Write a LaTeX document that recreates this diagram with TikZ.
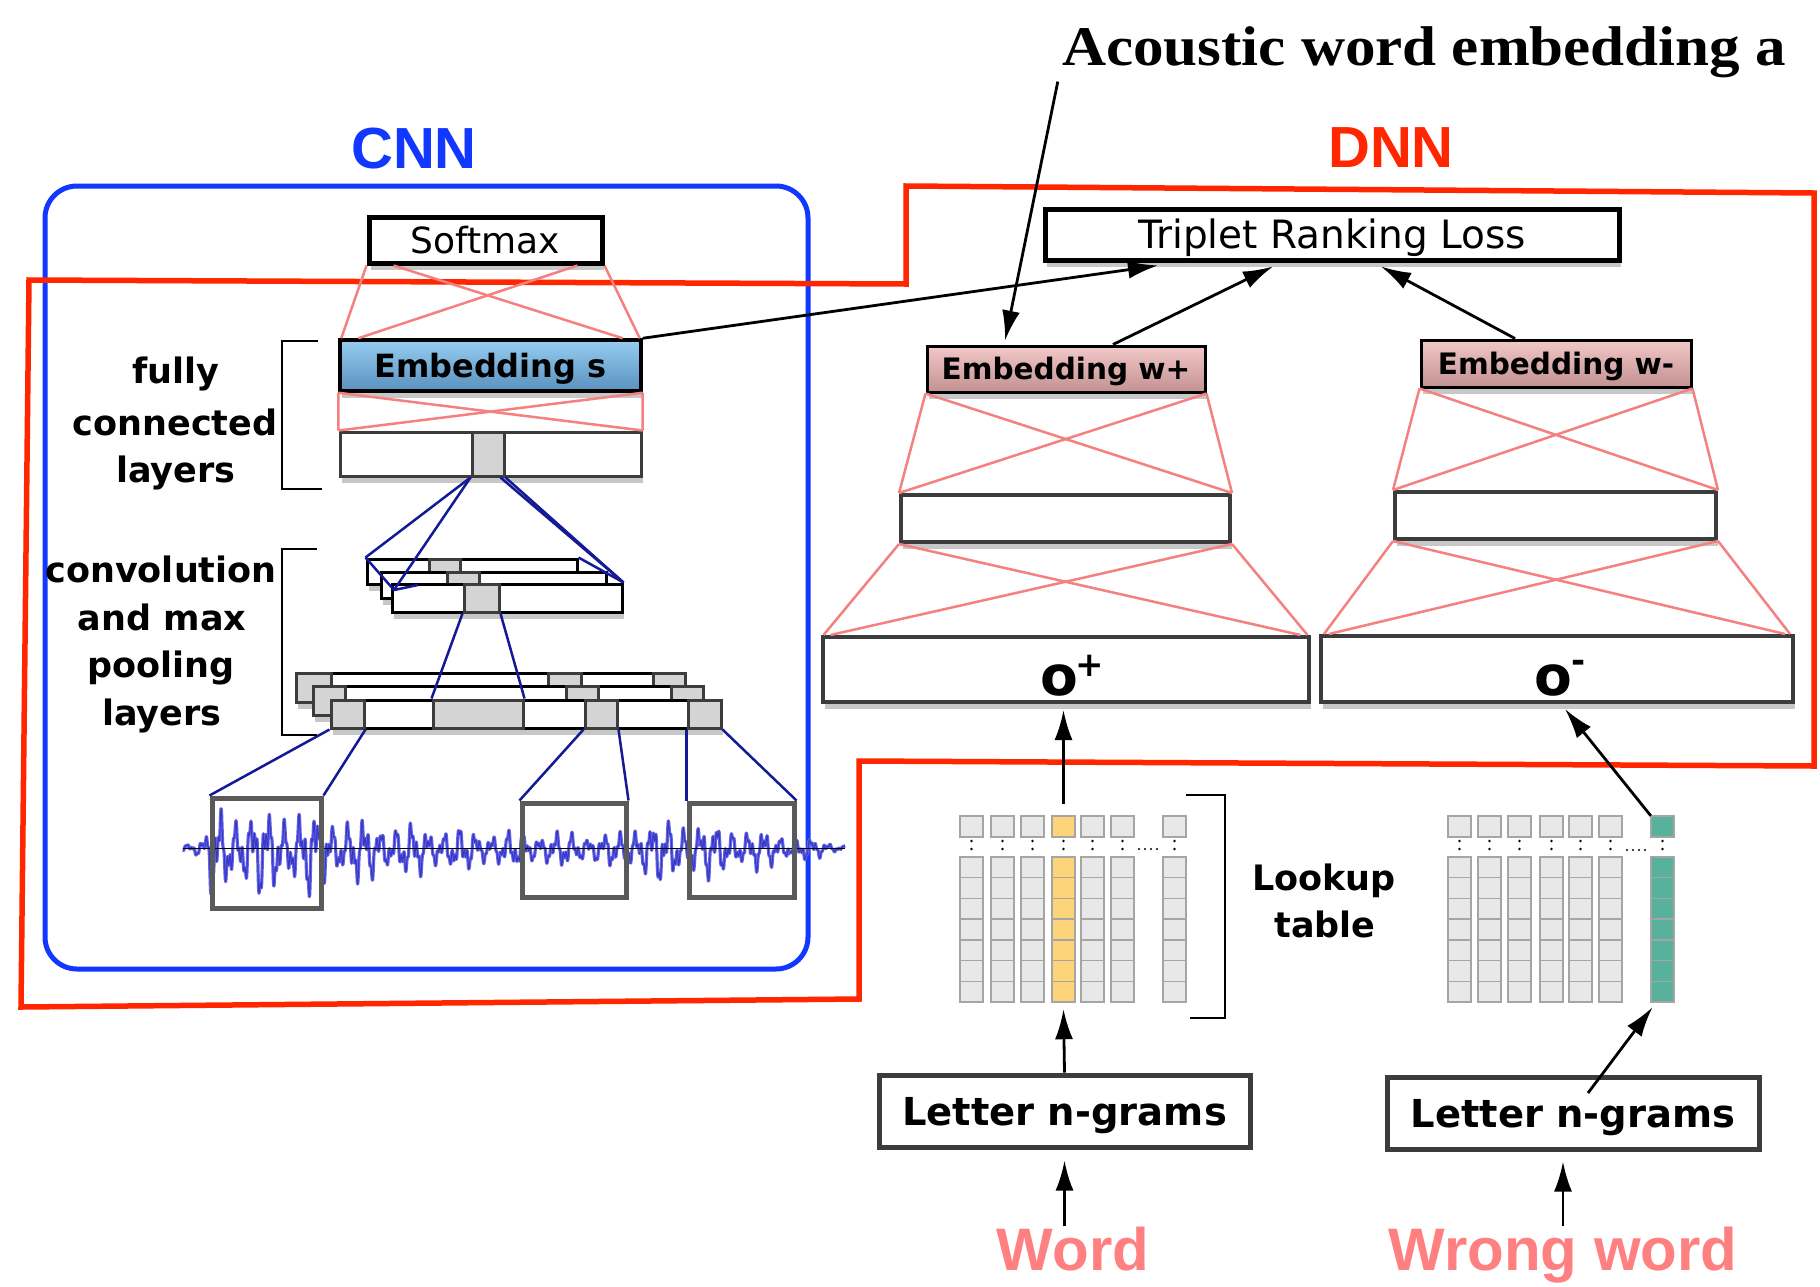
\documentclass[tikz,border=0pt]{standalone}
\usepackage{fontspec}
\setmainfont{DejaVu Sans}
\newfontfamily\libsans{Liberation Sans}
\newfontfamily\libserif{Liberation Serif}
\usepackage{graphicx}
\usetikzlibrary{arrows.meta,calc,shadows}
\newcommand\fsz[1]{\fontsize{#1}{#1}\selectfont}
\definecolor{pinkl}{RGB}{245,128,128}
\definecolor{navyc}{RGB}{20,25,150}
\definecolor{redc}{RGB}{255,38,0}
\definecolor{bluec}{RGB}{18,55,255}
\definecolor{salmonc}{RGB}{255,128,128}
\definecolor{cellg}{RGB}{232,232,232}
\definecolor{cellb}{RGB}{165,165,165}
\definecolor{yellowc}{RGB}{253,212,122}
\definecolor{tealc}{RGB}{88,178,155}
\definecolor{wavec}{RGB}{100,100,228}
\definecolor{waved}{RGB}{55,55,200}
\definecolor{darkg}{RGB}{60,60,60}
\definecolor{midg}{RGB}{90,90,90}
\definecolor{greycell}{RGB}{212,212,212}
\definecolor{embsT}{RGB}{150,205,240}
\definecolor{embsB}{RGB}{90,145,190}
\definecolor{embwT}{RGB}{242,200,200}
\definecolor{embwB}{RGB}{195,145,145}
\newcommand\pinkfan[5]{%
  \draw[pinkline] (#1.south west) -- ([xshift=#5]#2.north west);
  \draw[pinkline] (#1.south east) -- ([xshift=-#5]#2.north east);
  \draw[pinkline] ([xshift=#3]#1.south west) -- ([xshift=-#4]#2.north east);
  \draw[pinkline] ([xshift=-#3]#1.south east) -- ([xshift=#4]#2.north west);}
\newcommand\wavefn{848 + (\aa+(\ab-\aa)*(\x-\xa)/(\xb-\xa))*(0.5*sin(22.5*mod(\x,16))+0.3*sin(51.43*mod(\x,7)+40)+0.2*sin(120*mod(\x,3)+10)+0.08)*(0.8+0.2*sin(7.2*mod(\x,50)))}
\begin{document}
\begin{tikzpicture}[x=1pt,y=-1pt,
  box/.style={draw=black, fill=white, inner sep=0pt, line width=3pt},
  shad/.style={drop shadow={shadow xshift=2pt, shadow yshift=-7pt, opacity=0.22, fill=black}},
  pinkline/.style={draw=pinkl, line width=2.5pt},
  navyline/.style={draw=navyc, line width=2.5pt},
  arr/.style={-{Latex[length=30pt,width=18pt]}, line width=2.8pt, draw=black},
  txt/.style={inner sep=0pt, anchor=base},
  cell/.style={draw=cellb, fill=cellg, line width=1.5pt},
  brack/.style={draw=black, line width=2.5pt},
  hid/.style={draw=darkg, fill=white, line width=4pt, inner sep=0pt},
  lay/.style={draw=black, fill=white, line width=3pt, inner sep=0pt},
  laycell/.style={draw=darkg, fill=greycell, line width=3pt, inner sep=0pt},
  wbox/.style={draw=midg, line width=5pt, inner sep=0pt}
]
\useasboundingbox (0,0) rectangle (1820,1286);
\fill[white] (0,0) rectangle (1820,1286);

% containers
\draw[bluec, line width=5pt, rounded corners=32pt] (45,186) rectangle (808,969);
\draw[redc, line width=5.5pt, line join=miter] (29,280) -- (906,284) -- (906,186) -- (1814,193) -- (1814,766) -- (859,761) -- (859,999) -- (21,1007) -- cycle;

% titles
\node[txt, font=\libserif\bfseries\fsz{56}] (acoustic) at (1424,65) {\scalebox{1.09}[1]{Acoustic word embedding a}};
\node[txt, font=\libsans\bfseries\fsz{58}, text=bluec] (cnn) at (414,168) {CNN};
\node[txt, font=\libsans\bfseries\fsz{58}, text=redc] (dnn) at (1391,167) {DNN};

% ---------- CNN side ----------
\node[box, line width=5pt, shad, minimum width=233pt, minimum height=46pt, font=\fsz{36}, text height=26pt, text depth=0pt] (softmax) at (485.5,240) {Softmax};
\node[box, line width=3.5pt, shad, top color=embsT, bottom color=embsB, minimum width=301pt, minimum height=51pt, font=\fsz{32}\bfseries, text height=23pt, text depth=0pt] (embs) at (490.5,365.5) {Embedding s};
\node[lay, draw=darkg, shad, minimum width=301pt, minimum height=44pt] (fc) at (490.5,454) {};
\node[laycell, minimum width=32pt, minimum height=44pt] (fccell) at (488,454) {};

\pinkfan{softmax}{embs}{27pt}{20pt}{3pt}
\pinkfan{embs}{fc}{0pt}{0pt}{0pt}

% top conv stack
\node[lay, shad, minimum width=210pt, minimum height=25pt] (t1) at (472,571.5) {};
\node[laycell, minimum width=31pt, minimum height=25pt] (t1c) at (444.5,571.5) {};
\node[lay, shad, minimum width=225pt, minimum height=26pt] (t2) at (493.5,585) {};
\node[laycell, minimum width=32pt, minimum height=26pt] (t2c) at (463,585) {};
\node[lay, shad, minimum width=230pt, minimum height=28pt] (t3) at (507,598) {};
\node[laycell, minimum width=35pt, minimum height=28pt] (t3c) at (481.5,598) {};

% bottom conv stack
\node[lay, shad, minimum width=389pt, minimum height=29pt] (bA) at (490.5,687.5) {};
\node[laycell, minimum width=35pt, minimum height=29pt] (bA1) at (313.5,687.5) {};
\node[laycell, minimum width=33pt, minimum height=29pt] (bA2) at (564.5,687.5) {};
\node[laycell, minimum width=32pt, minimum height=29pt] (bA3) at (669,687.5) {};
\node[lay, shad, minimum width=390pt, minimum height=29pt] (bB) at (508,700.5) {};
\node[laycell, minimum width=32pt, minimum height=29pt] (bB1) at (329,700.5) {};
\node[laycell, minimum width=32pt, minimum height=29pt] (bB2) at (582,700.5) {};
\node[laycell, minimum width=32pt, minimum height=29pt] (bB3) at (687,700.5) {};
\node[lay, shad, minimum width=390pt, minimum height=28pt] (bC) at (526,714) {};
\node[laycell, minimum width=33pt, minimum height=28pt] (c1) at (347.5,714) {};
\node[laycell, minimum width=90pt, minimum height=28pt] (cbig) at (478,714) {};
\node[laycell, minimum width=32pt, minimum height=28pt] (c3) at (601,714) {};
\node[laycell, minimum width=33pt, minimum height=28pt] (c4) at (704.5,714) {};

% waveform
\foreach \xa/\xb/\aa/\ab in {183/205/6/14, 205/212/14/52, 212/325/52/52, 325/335/52/42, 335/405/42/32, 405/500/32/22, 500/625/22/20, 625/640/20/40, 640/700/40/35, 700/790/35/18, 790/845/18/4}{
  \pgfmathtruncatemacro\ns{3*(\xb-\xa)+1}
  \draw[wavec, line width=3.2pt, line join=round] plot[domain=\xa:\xb, samples=\ns] (\x, {\wavefn});
  \draw[waved, line width=1pt, line join=round] plot[domain=\xa:\xb, samples=\ns] (\x, {\wavefn});
}
\draw[black, line width=0.8pt] (183,848) -- (845,848);

\node[wbox, minimum width=109pt, minimum height=110pt] (wb1) at (266.5,853) {};
\node[wbox, minimum width=104pt, minimum height=94pt] (wb2) at (574,850) {};
\node[wbox, minimum width=105pt, minimum height=94pt] (wb3) at (741.5,850) {};

% navy connectors
\coordinate (t3nw) at (394,590);
\draw[navyline] (fccell.south west) -- (t1.north west);
\draw[navyline] (fccell.south west) -- (t3nw);
\draw[navyline] (t1.north west) -- (t3nw) -- (418,585);
\draw[navyline] (fccell.south east) -- (t3.north east);
\draw[navyline] ([xshift=-5pt]fccell.south east) -- (t3.north east);
\draw[navyline] (t1.north east) -- (t3.north east);
\draw[navyline] (t3c.south west) -- (cbig.north west);
\draw[navyline] (t3c.south east) -- (cbig.north east);
\draw[navyline] (c1.south west) -- (wb1.north west);
\draw[navyline] (c1.south east) -- (wb1.north east);
\draw[navyline] (c3.south west) -- (wb2.north west);
\draw[navyline] (c3.south east) -- (wb2.north east);
\draw[navyline] (c4.south west) -- (wb3.north west);
\draw[navyline] (c4.south east) -- (wb3.north east);

% brackets and labels
\draw[brack] (318,341) -- (282,341) -- (282,489) -- (322,489);
\draw[brack] (317,549) -- (282,549) -- (282,735) -- (317,735);
\node[txt, font=\bfseries\fsz{35}] (fl1) at (176,383) {fully};
\node[txt, font=\bfseries\fsz{35}] (fl2) at (175,435) {connected};
\node[txt, font=\bfseries\fsz{35}] (fl3) at (176,482) {layers};
\node[txt, font=\bfseries\fsz{35}] (cl1) at (161,582) {convolution};
\node[txt, font=\bfseries\fsz{35}] (cl2) at (162,630) {and max};
\node[txt, font=\bfseries\fsz{35}] (cl3) at (161,677) {pooling};
\node[txt, font=\bfseries\fsz{35}] (cl4) at (162,725) {layers};

% ---------- DNN side ----------
\node[box, line width=5pt, shad, minimum width=574pt, minimum height=51pt, font=\fsz{39}, text height=28.5pt, text depth=0pt] (triplet) at (1332,234.5) {Triplet Ranking Loss};
\node[box, line width=3pt, shad, top color=embwT, bottom color=embwB, minimum width=278pt, minimum height=46pt, font=\fsz{29.5}\bfseries, text height=21.5pt, text depth=0pt] (embwp) at (1066,369) {Embedding w+};
\node[box, line width=3pt, shad, top color=embwT, bottom color=embwB, minimum width=270pt, minimum height=47pt, font=\fsz{29.5}\bfseries, text height=21.5pt, text depth=0pt] (embwm) at (1556,363.5) {Embedding w-};
\node[hid, shad, minimum width=329pt, minimum height=47pt] (hidl) at (1065.5,518.5) {};
\node[hid, shad, minimum width=321pt, minimum height=47pt] (hidr) at (1555.5,515.5) {};
\node[hid, shad, minimum width=486pt, minimum height=65pt] (oplus) at (1065.5,669.5) {};
\node[hid, shad, minimum width=472pt, minimum height=66pt] (ominus) at (1557,669) {};
\node[txt, font=\bfseries\fsz{55}] (optxt) at (1059,695) {o};
\node[txt, font=\bfseries\fsz{34}] (opsup) at (1089.5,676) {+};
\node[txt, font=\bfseries\fsz{55}] (omtxt) at (1553,695) {o};
\node[txt, font=\bfseries\fsz{34}] (omsup) at (1579,672) {-};

\pinkfan{embwp}{hidl}{0pt}{0pt}{0pt}
\pinkfan{hidl}{oplus}{0pt}{10pt}{3pt}
\pinkfan{embwm}{hidr}{0pt}{0pt}{0pt}
\pinkfan{hidr}{ominus}{0pt}{10pt}{5pt}

% lookup tables
\foreach \cx in {960,991,1021,1081,1111,1163,1448,1478,1508,1540,1569,1599}{
  \draw[cell] (\cx,816) rectangle +(23,21);
  \foreach \r in {0,...,6} \draw[cell] (\cx,857+\r*20.714) rectangle +(23,20.714);
}
\foreach \cx/\cc in {1052/yellowc,1651/tealc}{
  \draw[cell, fill=\cc] (\cx,816) rectangle +(23,21);
  \foreach \r in {0,...,6} \draw[cell, fill=\cc] (\cx,857+\r*20.714) rectangle +(23,20.714);
}
\foreach \cx in {960,991,1021,1052,1081,1111,1163,1448,1478,1508,1540,1569,1599,1651}{
  \fill (\cx+11.5,841) circle (1.3pt);
  \fill (\cx+11.5,849) circle (1.3pt);
}
\foreach \d in {0,1,2,3}{
  \fill (1139+\d*6,849) circle (1.2pt);
  \fill (1627+\d*6,850) circle (1.2pt);
}
\node[inner sep=0pt, minimum width=23pt, minimum height=21pt] (ytop) at (1063.5,826.5) {};
\node[inner sep=0pt, minimum width=23pt, minimum height=145pt] (ycol) at (1063.5,929.5) {};
\node[inner sep=0pt, minimum width=23pt, minimum height=21pt] (ttop) at (1662.5,826.5) {};
\node[inner sep=0pt, minimum width=23pt, minimum height=145pt] (tcol) at (1662.5,929.5) {};

\draw[brack] (1186,795) -- (1225,795) -- (1225,1018) -- (1190,1018);
\node[txt, font=\bfseries\fsz{35}] (lk1) at (1324,890) {Lookup};
\node[txt, font=\bfseries\fsz{35}] (lk2) at (1325,937) {table};

\node[hid, line width=5pt, minimum width=371pt, minimum height=72pt, font=\bfseries\fsz{38.5}, text height=28pt, text depth=0pt] (letter1) at (1064.5,1111) {Letter n-grams};
\node[hid, line width=5pt, minimum width=372pt, minimum height=72pt, font=\bfseries\fsz{38.5}, text height=28pt, text depth=0pt] (letter2) at (1573,1113) {Letter n-grams};

\node[txt, font=\libsans\bfseries\fsz{60}, text=salmonc] (word) at (1073,1270) {Word};
\node[txt, font=\libsans\bfseries\fsz{60}, text=salmonc] (wrong) at (1563,1270) {Wrong word};

% arrows
\coordinate (l2in) at (1588,1093);
\draw[arr] (word.north -| letter1.south) -- ([yshift=-11pt]letter1.south);
\draw[arr] (wrong.north) -- ([yshift=-10pt]wrong.north |- letter2.south);
\draw[arr] (letter1.north) -- ([yshift=-7pt]ycol.south);
\draw[arr] (l2in) -- ([xshift=-10pt,yshift=-5pt]tcol.south);
\draw[arr] ([yshift=12pt]ytop.north) -- ([yshift=-6pt]oplus.south -| ytop.north);
\draw[arr] (ttop.north west) -- ([xshift=8pt,yshift=-5pt]ominus.south);
\draw[arr] (embs.north east) -- ([xshift=-174pt,yshift=-3pt]triplet.south);
\draw[arr] ([xshift=47pt]embwp.north) -- ([xshift=-59pt,yshift=-4pt]triplet.south);
\draw[arr] ([xshift=-41pt]embwm.north) -- ([xshift=49pt,yshift=-4pt]triplet.south);
\draw[arr] ([xshift=-4pt,yshift=-4pt]acoustic.south west) -- ([xshift=-61pt,yshift=4pt]embwp.north);
\end{tikzpicture}
\end{document}
